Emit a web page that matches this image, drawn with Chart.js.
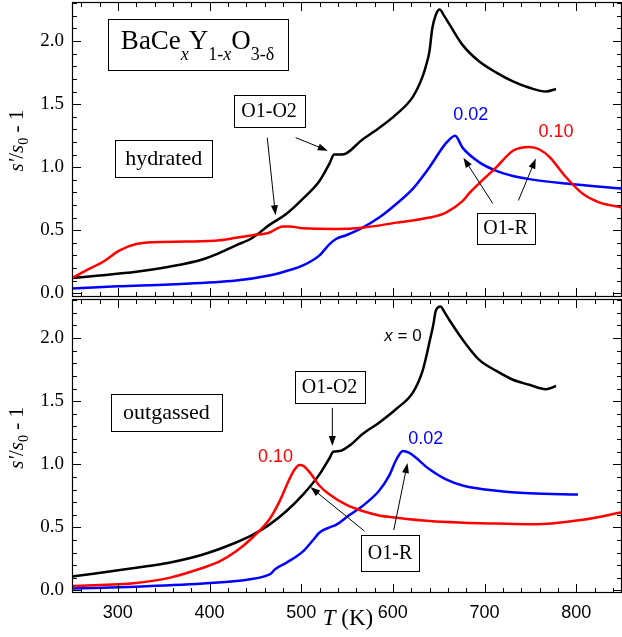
<!DOCTYPE html>
<html>
<head>
<meta charset="utf-8">
<script src="https://cdn.jsdelivr.net/npm/chart.js@4.4.1/dist/chart.umd.min.js"></script>
<style>
body{margin:0;background:#fff;}
#wrap{position:relative;width:622px;height:637px;}
canvas{position:absolute;left:0;}
</style>
</head>
<body>
<div id="wrap">
<canvas id="topChart" width="622" height="298" style="top:0px"></canvas>
<canvas id="botChart" width="622" height="339" style="top:298px"></canvas>
</div>
<script>

/* DATA: hydrated (top panel) */
let hydTemp0 = [250,280,320,356,393,411,429,447,465,484,502,520,531,536,545,567,585,604,622,632,636,640,643,647,651,656,662,676,694,713,731,749,767,778];
let hydVal0  = [0.12,0.14,0.17,0.21,0.27,0.32,0.38,0.44,0.54,0.63,0.75,0.89,1.03,1.10,1.10,1.22,1.31,1.42,1.56,1.71,1.80,1.92,2.10,2.21,2.25,2.20,2.13,1.97,1.84,1.75,1.68,1.63,1.60,1.62];

let hydTemp002 = [250,300,356,429,465,484,502,520,531,538,549,567,585,604,622,640,658,668,676,694,713,731,749,789,850];
let hydVal002  = [0.037,0.055,0.07,0.10,0.14,0.176,0.22,0.30,0.39,0.43,0.46,0.52,0.60,0.71,0.83,1.00,1.19,1.25,1.155,1.04,0.97,0.93,0.905,0.87,0.83];

let hydTemp010 = [250,265,284,302,320,338,375,411,429,447,465,480,487,502,538,567,604,640,658,676,683,694,713,731,749,760,771,789,807,825,850];
let hydVal010  = [0.12,0.18,0.25,0.34,0.39,0.405,0.41,0.42,0.44,0.46,0.48,0.53,0.53,0.515,0.51,0.52,0.56,0.60,0.64,0.73,0.79,0.87,1.00,1.13,1.16,1.14,1.08,0.92,0.79,0.72,0.68];

/* DATA: outgassed (bottom panel) */
let outTemp0 = [250,320,356,393,429,447,465,484,502,520,531,535,542,553,567,585,604,622,632,636,640,644,647,652,656,662,677,694,713,731,749,767,778];
let outVal0  = [0.11,0.18,0.22,0.285,0.38,0.44,0.52,0.63,0.76,0.92,1.05,1.10,1.105,1.15,1.24,1.33,1.44,1.57,1.73,1.84,1.97,2.10,2.22,2.25,2.21,2.14,1.98,1.83,1.74,1.67,1.63,1.595,1.62];

let outTemp002 = [250,320,393,429,465,468,471,484,502,513,520,531,538,553,567,585,596,604,611,618,640,658,677,713,749,802];
let outVal002  = [0.015,0.03,0.055,0.075,0.125,0.14,0.165,0.22,0.31,0.40,0.46,0.50,0.52,0.60,0.67,0.79,0.91,1.04,1.105,1.09,0.96,0.88,0.83,0.79,0.77,0.76];

let outTemp010 = [250,320,356,393,411,429,447,465,476,487,493,498,502,510,520,531,549,567,585,604,640,677,713,752,807,850];
let outVal010  = [0.035,0.06,0.10,0.18,0.23,0.31,0.42,0.56,0.70,0.88,0.96,0.995,0.99,0.93,0.83,0.76,0.68,0.63,0.595,0.577,0.55,0.537,0.53,0.524,0.56,0.62];

/* TICKS */
let xMin = 250, xMax = 850;
let xTicks  = [260,280,300,320,340,360,380,400,420,440,460,480,500,520,540,560,580,600,620,640,660,680,700,720,740,760,780,800,820,840];
let xLabels = [300,400,500,600,700,800];
let yTicks  = [0.0,0.1,0.2,0.3,0.4,0.5,0.6,0.7,0.8,0.9,1.0,1.1,1.2,1.3,1.4,1.5,1.6,1.7,1.8,1.9,2.0,2.1,2.2,2.3];
let yLabels = [0.0,0.5,1.0,1.5,2.0];

const SERIF = "'Liberation Serif','Times New Roman',serif";
const SANS = "'Liberation Sans',Arial,sans-serif";
const BLUE = "#0000ff";
const RED = "#ff0000";

function pts(t, v){
return t.map((x,i) => ({x:x, y:v[i]}));
}

function inList(list, v){
return list.some(u => Math.abs(u - v) < 1e-6);
}

/* rich text: parts = [text, font, dy] */
function drawRich(ctx, parts, cx, y, color){
let total = 0;
parts.forEach(p => { ctx.font = p[1]; total += ctx.measureText(p[0]).width; });
let x = cx - total/2;
ctx.fillStyle = color || "#000";
ctx.textAlign = "left";
ctx.textBaseline = "alphabetic";
parts.forEach(p => {
ctx.font = p[1];
ctx.fillText(p[0], x, y + (p[2] || 0));
x += ctx.measureText(p[0]).width;
});
}

function drawArrow(ctx, x1, y1, x2, y2){
let a = Math.atan2(y2-y1, x2-x1);
let hl = 10, hw = 3.5;
ctx.save();
ctx.strokeStyle = "#000";
ctx.fillStyle = "#000";
ctx.lineWidth = 1;
ctx.beginPath();
ctx.moveTo(x1, y1);
ctx.lineTo(x2 - Math.cos(a)*hl*0.8, y2 - Math.sin(a)*hl*0.8);
ctx.stroke();
ctx.beginPath();
ctx.moveTo(x2, y2);
ctx.lineTo(x2 - Math.cos(a)*hl - Math.sin(a)*hw, y2 - Math.sin(a)*hl + Math.cos(a)*hw);
ctx.lineTo(x2 - Math.cos(a)*hl + Math.sin(a)*hw, y2 - Math.sin(a)*hl - Math.cos(a)*hw);
ctx.closePath();
ctx.fill();
ctx.restore();
}

/* annotations, placed in data units (T, value) */
let topNotes = {
boxes: [
{T:387, v:1.97, w:180, h:51, base:4, parts:[["BaCe","27px "+SERIF],["x","italic 18px "+SERIF,11],["Y","27px "+SERIF],["1-","18px "+SERIF,11],["x","italic 18px "+SERIF,11],["O","27px "+SERIF],["3-δ","18px "+SERIF,11]]},
{T:350, v:1.07, w:97, h:37, base:7, parts:[["hydrated","22px "+SERIF]]},
{T:465, v:1.447, w:71, h:32, base:6, parts:[["O1-O2","20px "+SERIF]]},
{T:723, v:0.515, w:58, h:31, base:6, parts:[["O1-R","20px "+SERIF]]}
],
arrows: [
[463,1.234,472,0.618],
[494,1.234,529,1.131],
[709,0.712,677,1.075],
[737,0.736,756,1.068]
],
labels: [
{T:685, v:1.424, color:BLUE, parts:[["0.02","18px "+SANS]]},
{T:778, v:1.289, color:RED, parts:[["0.10","18px "+SANS]]}
]
};

let botNotes = {
boxes: [
{T:353, v:1.411, w:111, h:37, base:7, parts:[["outgassed","22px "+SERIF]]},
{T:531, v:1.612, w:70, h:32, base:6, parts:[["O1-O2","20px "+SERIF]]},
{T:597, v:0.297, w:58, h:36, base:6, parts:[["O1-R","20px "+SERIF]]}
],
arrows: [
[534,1.447,534,1.145],
[569,0.471,510,0.820],
[601,0.479,616,1.01]
],
labels: [
{T:611, v:2.025, color:"#000", parts:[["x","italic 17px "+SANS],[" = 0","17px "+SANS]]},
{T:472, v:1.066, color:RED, parts:[["0.10","18px "+SANS]]},
{T:636, v:1.208, color:BLUE, parts:[["0.02","18px "+SANS]]}
]
};

function makeDecor(notes, showXTitle){
return {
id: "decor",
afterDraw(chart){
let ctx = chart.ctx;
let a = chart.chartArea;
let xs = chart.scales.x;
let ys = chart.scales.y;

ctx.save();

/* frame */
ctx.strokeStyle = "#000";
ctx.lineWidth = 1.2;
ctx.strokeRect(a.left+0.5, a.top+0.5, a.right-a.left-1, a.bottom-a.top-1);

/* inward ticks */
ctx.lineWidth = 1;
ctx.beginPath();
xTicks.forEach(v => {
let px = Math.round(xs.getPixelForValue(v)) + 0.5;
let len = inList(xLabels, v) ? 9 : 5;
ctx.moveTo(px, a.bottom); ctx.lineTo(px, a.bottom - len);
ctx.moveTo(px, a.top); ctx.lineTo(px, a.top + len);
});
yTicks.forEach(v => {
let py = Math.round(ys.getPixelForValue(v)) + 0.5;
let len = inList(yLabels, v) ? 9 : 5;
ctx.moveTo(a.left, py); ctx.lineTo(a.left + len, py);
ctx.moveTo(a.right, py); ctx.lineTo(a.right - len, py);
});
ctx.stroke();

/* y title */
ctx.save();
ctx.translate(a.left - 49, ys.getPixelForValue(1.21));
ctx.rotate(-Math.PI/2);
drawRich(ctx, [["s","italic 21px "+SERIF],["'","italic 21px "+SERIF],["/","21px "+SERIF],["s","italic 21px "+SERIF],["0","14px "+SERIF,5],[" - 1","21px "+SERIF]], 0, 0);
ctx.restore();

/* x title */
if(showXTitle){
drawRich(ctx, [["T","italic 23px "+SERIF],[" (K)","23px "+SERIF]], xs.getPixelForValue(551), a.bottom + 32);
}

/* arrows */
notes.arrows.forEach(r => {
drawArrow(ctx, xs.getPixelForValue(r[0]), ys.getPixelForValue(r[1]), xs.getPixelForValue(r[2]), ys.getPixelForValue(r[3]));
});

/* boxes */
notes.boxes.forEach(b => {
let cx = xs.getPixelForValue(b.T);
let cy = ys.getPixelForValue(b.v);
let x0 = Math.round(cx - b.w/2) + 0.5;
let y0 = Math.round(cy - b.h/2) + 0.5;
ctx.fillStyle = "#fff";
ctx.fillRect(x0, y0, b.w, b.h);
ctx.strokeStyle = "#000";
ctx.lineWidth = 1;
ctx.strokeRect(x0, y0, b.w, b.h);
drawRich(ctx, b.parts, cx, cy + b.base);
});

/* coloured labels */
notes.labels.forEach(l => {
drawRich(ctx, l.parts, xs.getPixelForValue(l.T), ys.getPixelForValue(l.v) + 6, l.color);
});

ctx.restore();
}
};
}

function lineSet(data, color){
return {
data: data,
borderColor: color,
borderWidth: 2.5,
pointRadius: 0,
fill: false,
cubicInterpolationMode: "monotone"
};
}

function makeChart(id, sets, yMin, yMax, notes, bottom){
let ctx = document.getElementById(id).getContext("2d");
return new Chart(ctx, {
type: "line",
data: { datasets: sets },
options: {
responsive: false,
animation: false,
devicePixelRatio: 1,
layout: { padding: bottom ? {top:1, right:0, bottom:0, left:0} : {top:2, right:0, bottom:1, left:0} },
plugins: { legend: {display:false}, tooltip: {enabled:false} },
scales: {
x: {
type: "linear",
display: bottom,
min: xMin,
max: xMax,
grid: { display:false, drawTicks:false },
border: { display:false },
afterBuildTicks: s => { s.ticks = xLabels.map(v => ({value:v})); },
ticks: {
autoSkip: false,
maxRotation: 0,
padding: 9,
color: "#000",
font: { family: SANS, size: 18 },
callback: v => String(v)
},
afterFit: s => { s.height = bottom ? 44 : 0; s.paddingLeft = 0; s.paddingRight = 0; }
},
y: {
type: "linear",
min: yMin,
max: yMax,
grid: { display:false, drawTicks:false },
border: { display:false },
afterBuildTicks: s => { s.ticks = yLabels.map(v => ({value:v})); },
ticks: {
autoSkip: false,
padding: 8,
color: "#000",
font: { family: SERIF, size: 19 },
callback: v => v.toFixed(1)
},
afterFit: s => { s.width = 72; s.paddingTop = 0; s.paddingBottom = 0; }
}
}
},
plugins: [makeDecor(notes, bottom)]
});
}

makeChart("topChart", [
lineSet(pts(hydTemp010, hydVal010), RED),
lineSet(pts(hydTemp002, hydVal002), BLUE),
lineSet(pts(hydTemp0, hydVal0), "#000")
], -0.03, 2.31, topNotes, false);

makeChart("botChart", [
lineSet(pts(outTemp010, outVal010), RED),
lineSet(pts(outTemp002, outVal002), BLUE),
lineSet(pts(outTemp0, outVal0), "#000")
], -0.02, 2.31, botNotes, true);

</script>
</body>
</html>
